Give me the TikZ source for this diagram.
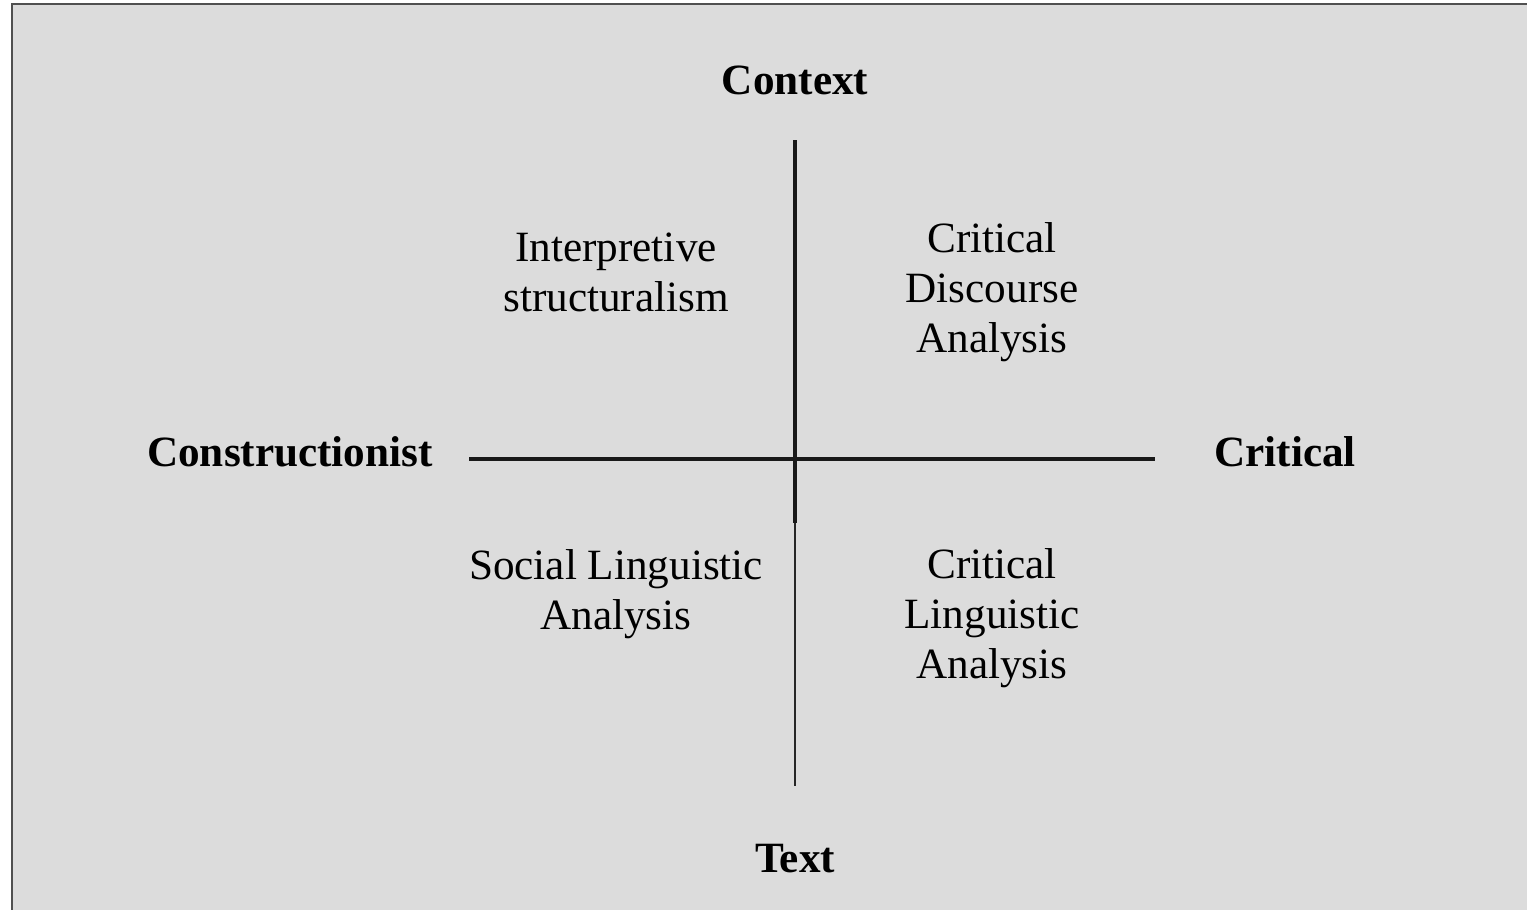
\documentclass[tikz,border=0pt]{standalone}
\usepackage{fontspec}
\setmainfont{Liberation Serif}
\definecolor{bggray}{HTML}{DCDCDC}
\definecolor{framegray}{HTML}{505050}
\begin{document}
\begin{tikzpicture}[x=0.5pt,y=-0.5pt,
  lbl/.style={font=\fontsize{21.6pt}{25pt}\selectfont, align=center, inner sep=0pt},
  axislbl/.style={lbl, font=\fontsize{21.6pt}{25pt}\selectfont\bfseries},
  thickaxis/.style={line width=1.6pt, color=black!90},
  thinaxis/.style={line width=0.8pt, color=black!85}]
\useasboundingbox (0,0) rectangle (1527,910);
\fill[bggray] (12,3) rectangle (1527,910);
\draw[framegray, line width=1pt] (12,910) -- (12,3.5) -- (1527,3.5);
% axis coordinates
\coordinate (top) at (795,140);
\coordinate (mid) at (795,523);
\coordinate (bot) at (795,786);
\coordinate (left) at (469,459);
\coordinate (right) at (1155,459);
\draw[thickaxis] (top) -- (mid);
\draw[thinaxis] (mid) -- (bot);
\draw[thickaxis] (left) -- (right);
% labels
\node[axislbl] (context) at (795,80) {Context};
\node[axislbl] (text) at (795,859) {Text};
\node[axislbl] (constr) at (290,452) {Constructionist};
\node[axislbl] (critical) at (1285,452) {Critical};
\node[lbl] (interp) at (616,272) {Interpretive\\structuralism};
\node[lbl] (cda) at (992,292) {Critical\\Discourse\\Analysis};
\node[lbl] (sla) at (616,594) {Social Linguistic\\Analysis};
\node[lbl] (cla) at (992,618) {Critical\\Linguistic\\Analysis};
\end{tikzpicture}
\end{document}
